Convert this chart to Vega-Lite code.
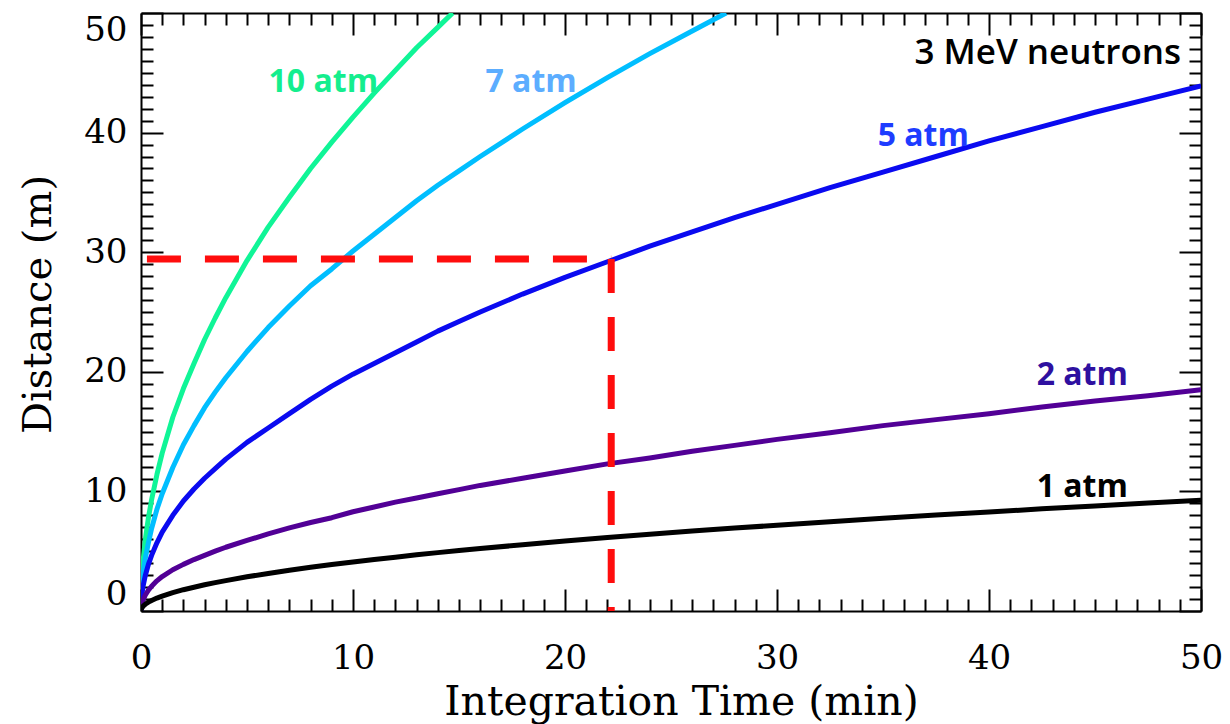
{
  "$schema": "https://vega.github.io/schema/vega-lite/v6.json",
  "autosize": {"type": "none"},
  "width": 1060,
  "height": 598,
  "padding": {"left": 141, "top": 13, "right": 29, "bottom": 113},
  "background": "white",
  "config": {"view": {"stroke": null}, "axis": {"grid": false}},
  "datasets": {
    "curves": [
      {"p": "10 atm", "t": 0, "d": 0}, {"p": "10 atm", "t": 0.02, "d": 1.9}, {"p": "10 atm", "t": 0.05, "d": 3.0},
      {"p": "10 atm", "t": 0.1, "d": 4.2}, {"p": "10 atm", "t": 0.2, "d": 5.9}, {"p": "10 atm", "t": 0.35, "d": 7.8},
      {"p": "10 atm", "t": 0.5, "d": 9.3}, {"p": "10 atm", "t": 0.75, "d": 11.4}, {"p": "10 atm", "t": 1, "d": 13.2},
      {"p": "10 atm", "t": 1.5, "d": 16.2}, {"p": "10 atm", "t": 2, "d": 18.6}, {"p": "10 atm", "t": 2.5, "d": 20.7},
      {"p": "10 atm", "t": 3, "d": 22.7}, {"p": "10 atm", "t": 3.5, "d": 24.5}, {"p": "10 atm", "t": 4, "d": 26.2},
      {"p": "10 atm", "t": 5, "d": 29.3}, {"p": "10 atm", "t": 6, "d": 32.1}, {"p": "10 atm", "t": 7, "d": 34.6},
      {"p": "10 atm", "t": 8, "d": 37.0}, {"p": "10 atm", "t": 9, "d": 39.2}, {"p": "10 atm", "t": 10, "d": 41.3},
      {"p": "10 atm", "t": 11, "d": 43.3}, {"p": "10 atm", "t": 12, "d": 45.2}, {"p": "10 atm", "t": 13, "d": 47.1},
      {"p": "10 atm", "t": 14, "d": 48.8}, {"p": "10 atm", "t": 14.7, "d": 50.0},

      {"p": "7 atm", "t": 0, "d": 0}, {"p": "7 atm", "t": 0.02, "d": 1.4}, {"p": "7 atm", "t": 0.05, "d": 2.2},
      {"p": "7 atm", "t": 0.1, "d": 3.1}, {"p": "7 atm", "t": 0.2, "d": 4.4}, {"p": "7 atm", "t": 0.35, "d": 5.7},
      {"p": "7 atm", "t": 0.5, "d": 6.9}, {"p": "7 atm", "t": 0.75, "d": 8.5}, {"p": "7 atm", "t": 1, "d": 9.8},
      {"p": "7 atm", "t": 1.5, "d": 12.0}, {"p": "7 atm", "t": 2, "d": 13.9}, {"p": "7 atm", "t": 2.5, "d": 15.5},
      {"p": "7 atm", "t": 3, "d": 17.0}, {"p": "7 atm", "t": 3.5, "d": 18.3}, {"p": "7 atm", "t": 4, "d": 19.5},
      {"p": "7 atm", "t": 5, "d": 21.7}, {"p": "7 atm", "t": 6, "d": 23.7}, {"p": "7 atm", "t": 7, "d": 25.5},
      {"p": "7 atm", "t": 8, "d": 27.2}, {"p": "7 atm", "t": 9, "d": 28.6}, {"p": "7 atm", "t": 10, "d": 30.1},
      {"p": "7 atm", "t": 11, "d": 31.5}, {"p": "7 atm", "t": 12, "d": 32.9}, {"p": "7 atm", "t": 13, "d": 34.3},
      {"p": "7 atm", "t": 14, "d": 35.6}, {"p": "7 atm", "t": 15, "d": 36.8}, {"p": "7 atm", "t": 16, "d": 38.0},
      {"p": "7 atm", "t": 18, "d": 40.3}, {"p": "7 atm", "t": 20, "d": 42.5}, {"p": "7 atm", "t": 22, "d": 44.6},
      {"p": "7 atm", "t": 24, "d": 46.6}, {"p": "7 atm", "t": 26, "d": 48.5}, {"p": "7 atm", "t": 27.6, "d": 50.0},

      {"p": "5 atm", "t": 0, "d": 0}, {"p": "5 atm", "t": 0.02, "d": 0.95}, {"p": "5 atm", "t": 0.05, "d": 1.5},
      {"p": "5 atm", "t": 0.1, "d": 2.1}, {"p": "5 atm", "t": 0.2, "d": 2.95}, {"p": "5 atm", "t": 0.35, "d": 3.9},
      {"p": "5 atm", "t": 0.5, "d": 4.65}, {"p": "5 atm", "t": 0.75, "d": 5.7}, {"p": "5 atm", "t": 1, "d": 6.6},
      {"p": "5 atm", "t": 1.5, "d": 8.0}, {"p": "5 atm", "t": 2, "d": 9.2}, {"p": "5 atm", "t": 2.5, "d": 10.2},
      {"p": "5 atm", "t": 3, "d": 11.1}, {"p": "5 atm", "t": 3.5, "d": 11.9}, {"p": "5 atm", "t": 4, "d": 12.7},
      {"p": "5 atm", "t": 5, "d": 14.1}, {"p": "5 atm", "t": 6, "d": 15.3}, {"p": "5 atm", "t": 7, "d": 16.5},
      {"p": "5 atm", "t": 8, "d": 17.7}, {"p": "5 atm", "t": 9, "d": 18.8}, {"p": "5 atm", "t": 10, "d": 19.8},
      {"p": "5 atm", "t": 11, "d": 20.7}, {"p": "5 atm", "t": 12, "d": 21.6}, {"p": "5 atm", "t": 13, "d": 22.5},
      {"p": "5 atm", "t": 14, "d": 23.4}, {"p": "5 atm", "t": 15, "d": 24.2}, {"p": "5 atm", "t": 16, "d": 25.0},
      {"p": "5 atm", "t": 18, "d": 26.5}, {"p": "5 atm", "t": 20, "d": 27.9}, {"p": "5 atm", "t": 22, "d": 29.2},
      {"p": "5 atm", "t": 24, "d": 30.5}, {"p": "5 atm", "t": 26, "d": 31.7}, {"p": "5 atm", "t": 28, "d": 32.9},
      {"p": "5 atm", "t": 30, "d": 34.0}, {"p": "5 atm", "t": 32.5, "d": 35.4}, {"p": "5 atm", "t": 35, "d": 36.7},
      {"p": "5 atm", "t": 37.5, "d": 38.0}, {"p": "5 atm", "t": 40, "d": 39.3}, {"p": "5 atm", "t": 42.5, "d": 40.5},
      {"p": "5 atm", "t": 45, "d": 41.7}, {"p": "5 atm", "t": 47.5, "d": 42.8}, {"p": "5 atm", "t": 50, "d": 43.9},

      {"p": "2 atm", "t": 0, "d": 0}, {"p": "2 atm", "t": 0.02, "d": 0.42}, {"p": "2 atm", "t": 0.05, "d": 0.66},
      {"p": "2 atm", "t": 0.1, "d": 0.93}, {"p": "2 atm", "t": 0.2, "d": 1.32}, {"p": "2 atm", "t": 0.35, "d": 1.74},
      {"p": "2 atm", "t": 0.5, "d": 2.07}, {"p": "2 atm", "t": 0.75, "d": 2.52}, {"p": "2 atm", "t": 1, "d": 2.88},
      {"p": "2 atm", "t": 1.5, "d": 3.45}, {"p": "2 atm", "t": 2, "d": 3.9}, {"p": "2 atm", "t": 2.5, "d": 4.3},
      {"p": "2 atm", "t": 3, "d": 4.65}, {"p": "2 atm", "t": 3.5, "d": 5.0}, {"p": "2 atm", "t": 4, "d": 5.33},
      {"p": "2 atm", "t": 5, "d": 5.9}, {"p": "2 atm", "t": 6, "d": 6.45}, {"p": "2 atm", "t": 7, "d": 6.95},
      {"p": "2 atm", "t": 8, "d": 7.4}, {"p": "2 atm", "t": 9, "d": 7.8}, {"p": "2 atm", "t": 10, "d": 8.3},
      {"p": "2 atm", "t": 11, "d": 8.7}, {"p": "2 atm", "t": 12, "d": 9.1}, {"p": "2 atm", "t": 13, "d": 9.45},
      {"p": "2 atm", "t": 14, "d": 9.8}, {"p": "2 atm", "t": 15, "d": 10.15}, {"p": "2 atm", "t": 16, "d": 10.5},
      {"p": "2 atm", "t": 18, "d": 11.1}, {"p": "2 atm", "t": 20, "d": 11.7}, {"p": "2 atm", "t": 22, "d": 12.3},
      {"p": "2 atm", "t": 24, "d": 12.8}, {"p": "2 atm", "t": 26, "d": 13.35}, {"p": "2 atm", "t": 28, "d": 13.85},
      {"p": "2 atm", "t": 30, "d": 14.35}, {"p": "2 atm", "t": 32.5, "d": 14.9}, {"p": "2 atm", "t": 35, "d": 15.5},
      {"p": "2 atm", "t": 37.5, "d": 16.0}, {"p": "2 atm", "t": 40, "d": 16.5}, {"p": "2 atm", "t": 42.5, "d": 17.05},
      {"p": "2 atm", "t": 45, "d": 17.55}, {"p": "2 atm", "t": 47.5, "d": 18.0}, {"p": "2 atm", "t": 50, "d": 18.5},

      {"p": "1 atm", "t": 0, "d": 0}, {"p": "1 atm", "t": 0.02, "d": 0.18}, {"p": "1 atm", "t": 0.05, "d": 0.28},
      {"p": "1 atm", "t": 0.1, "d": 0.4}, {"p": "1 atm", "t": 0.2, "d": 0.56}, {"p": "1 atm", "t": 0.35, "d": 0.74},
      {"p": "1 atm", "t": 0.5, "d": 0.88}, {"p": "1 atm", "t": 0.75, "d": 1.08}, {"p": "1 atm", "t": 1, "d": 1.25},
      {"p": "1 atm", "t": 1.5, "d": 1.54}, {"p": "1 atm", "t": 2, "d": 1.78}, {"p": "1 atm", "t": 2.5, "d": 1.99},
      {"p": "1 atm", "t": 3, "d": 2.19}, {"p": "1 atm", "t": 3.5, "d": 2.37}, {"p": "1 atm", "t": 4, "d": 2.54},
      {"p": "1 atm", "t": 5, "d": 2.86}, {"p": "1 atm", "t": 6, "d": 3.14}, {"p": "1 atm", "t": 7, "d": 3.4},
      {"p": "1 atm", "t": 8, "d": 3.65}, {"p": "1 atm", "t": 9, "d": 3.88}, {"p": "1 atm", "t": 10, "d": 4.1},
      {"p": "1 atm", "t": 11, "d": 4.3}, {"p": "1 atm", "t": 12, "d": 4.5}, {"p": "1 atm", "t": 13, "d": 4.7},
      {"p": "1 atm", "t": 14, "d": 4.88}, {"p": "1 atm", "t": 15, "d": 5.05}, {"p": "1 atm", "t": 16, "d": 5.22},
      {"p": "1 atm", "t": 18, "d": 5.54}, {"p": "1 atm", "t": 20, "d": 5.85}, {"p": "1 atm", "t": 22, "d": 6.14},
      {"p": "1 atm", "t": 24, "d": 6.41}, {"p": "1 atm", "t": 26, "d": 6.68}, {"p": "1 atm", "t": 28, "d": 6.93},
      {"p": "1 atm", "t": 30, "d": 7.17}, {"p": "1 atm", "t": 32.5, "d": 7.47}, {"p": "1 atm", "t": 35, "d": 7.75},
      {"p": "1 atm", "t": 37.5, "d": 8.02}, {"p": "1 atm", "t": 40, "d": 8.28}, {"p": "1 atm", "t": 42.5, "d": 8.54},
      {"p": "1 atm", "t": 45, "d": 8.78}, {"p": "1 atm", "t": 47.5, "d": 9.02}, {"p": "1 atm", "t": 50, "d": 9.25}
    ],
    "guide": [
      {"seg": "h", "i": 0, "t": 0.28, "d": 29.43},
      {"seg": "h", "i": 1, "t": 22.18, "d": 29.43},
      {"seg": "v", "i": 0, "t": 22.18, "d": 29.43},
      {"seg": "v", "i": 1, "t": 22.18, "d": 0}
    ],
    "labels": [
      {"label": "10 atm", "t": 8.6, "d": 43.4},
      {"label": "7 atm", "t": 18.4, "d": 43.4},
      {"label": "5 atm", "t": 36.9, "d": 38.9},
      {"label": "2 atm", "t": 44.4, "d": 18.9},
      {"label": "1 atm", "t": 44.4, "d": 9.5}
    ],
    "note": [
      {"label": "3 MeV neutrons", "t": 49.06, "d": 45.7}
    ]
  },
  "layer": [
    {
      "data": {"name": "curves"},
      "mark": {"type": "line", "clip": true, "strokeCap": "butt", "strokeJoin": "round", "strokeWidth": 5},
      "encoding": {
        "x": {
          "field": "t", "type": "quantitative",
          "scale": {"domain": [0, 50], "nice": false, "zero": false},
          "axis": {
            "orient": "bottom", "values": [0, 10, 20, 30, 40, 50], "format": "d",
            "tickSize": -22, "tickWidth": 2, "tickColor": "black",
            "domain": true, "domainColor": "black", "domainWidth": 2,
            "labelFont": "DejaVu Serif", "labelFontSize": 34, "labelColor": "black",
            "labelPadding": 52, "labelFlush": false, "labelOverlap": false, "labelBound": false,
            "title": "Integration Time (min)", "titleFont": "DejaVu Serif", "titleFontSize": 41,
            "titleFontWeight": "normal", "titleColor": "black",
            "titleBaseline": "alphabetic", "titleY": 103, "titleX": 540, "titleAlign": "center"
          }
        },
        "y": {
          "field": "d", "type": "quantitative",
          "scale": {"domain": [0, 50], "nice": false, "zero": false},
          "axis": {
            "orient": "left", "values": [0, 10, 20, 30, 40, 50], "format": "d",
            "tickSize": -22, "tickWidth": 2, "tickColor": "black",
            "domain": true, "domainColor": "black", "domainWidth": 2,
            "labelFont": "DejaVu Serif", "labelFontSize": 34, "labelColor": "black",
            "labelPadding": 36, "labelFlush": true, "labelOverlap": false, "labelBound": false,
            "title": "Distance (m)", "titleFont": "DejaVu Serif", "titleFontSize": 40,
            "titleFontWeight": "normal", "titleColor": "black", "titleAngle": -90,
            "titleBaseline": "alphabetic", "titleX": -91, "titleY": 291, "titleAlign": "center"
          }
        },
        "color": {
          "field": "p", "type": "nominal",
          "scale": {"domain": ["10 atm", "7 atm", "5 atm", "2 atm", "1 atm"], "range": ["#10F597", "#00BEFF", "#0A0AF0", "#520096", "#000000"]},
          "legend": null
        }
      }
    },
    {
      "data": {"name": "guide"},
      "mark": {"type": "line", "color": "#FF0D0D", "strokeWidth": 7, "strokeDash": [34, 24], "strokeCap": "butt"},
      "encoding": {
        "x": {
          "field": "t", "type": "quantitative",
          "scale": {"domain": [0, 50], "nice": false, "zero": false},
          "axis": {
            "orient": "bottom", "values": [1,2,3,4,5,6,7,8,9,11,12,13,14,15,16,17,18,19,21,22,23,24,25,26,27,28,29,31,32,33,34,35,36,37,38,39,41,42,43,44,45,46,47,48,49],
            "tickSize": -12, "tickWidth": 2, "tickColor": "black",
            "domain": false, "labels": false, "title": null
          }
        },
        "y": {
          "field": "d", "type": "quantitative",
          "scale": {"domain": [0, 50], "nice": false, "zero": false},
          "axis": {
            "orient": "left", "values": [1,2,3,4,5,6,7,8,9,11,12,13,14,15,16,17,18,19,21,22,23,24,25,26,27,28,29,31,32,33,34,35,36,37,38,39,41,42,43,44,45,46,47,48,49],
            "tickSize": -12, "tickWidth": 2, "tickColor": "black",
            "domain": false, "labels": false, "title": null
          }
        },
        "detail": {"field": "seg", "type": "nominal"},
        "order": {"field": "i", "type": "quantitative"}
      }
    },
    {
      "data": {"name": "labels"},
      "mark": {"type": "text", "font": "Open Sans", "fontWeight": "bold", "fontSize": 32, "align": "center", "baseline": "alphabetic"},
      "encoding": {
        "x": {
          "field": "t", "type": "quantitative",
          "scale": {"domain": [0, 50], "nice": false, "zero": false},
          "axis": {
            "orient": "top", "values": [0, 10, 20, 30, 40, 50],
            "tickSize": -22, "tickWidth": 2, "tickColor": "black",
            "domain": true, "domainColor": "black", "domainWidth": 2, "labels": false, "title": null
          }
        },
        "y": {
          "field": "d", "type": "quantitative",
          "scale": {"domain": [0, 50], "nice": false, "zero": false},
          "axis": {
            "orient": "right", "values": [0, 10, 20, 30, 40, 50],
            "tickSize": -22, "tickWidth": 2, "tickColor": "black",
            "domain": true, "domainColor": "black", "domainWidth": 2, "labels": false, "title": null
          }
        },
        "text": {"field": "label", "type": "nominal"},
        "color": {
          "field": "label", "type": "nominal",
          "scale": {"domain": ["10 atm", "7 atm", "5 atm", "2 atm", "1 atm"], "range": ["#14EE8E", "#5CADFF", "#1E3CFF", "#2E10A0", "#000000"]},
          "legend": null
        }
      }
    },
    {
      "data": {"name": "note"},
      "mark": {"type": "text", "font": "Open Sans", "fontWeight": 600, "fontSize": 35, "align": "right", "baseline": "alphabetic", "color": "black"},
      "encoding": {
        "x": {
          "field": "t", "type": "quantitative",
          "scale": {"domain": [0, 50], "nice": false, "zero": false},
          "axis": {
            "orient": "top", "values": [1,2,3,4,5,6,7,8,9,11,12,13,14,15,16,17,18,19,21,22,23,24,25,26,27,28,29,31,32,33,34,35,36,37,38,39,41,42,43,44,45,46,47,48,49],
            "tickSize": -12, "tickWidth": 2, "tickColor": "black",
            "domain": false, "labels": false, "title": null
          }
        },
        "y": {
          "field": "d", "type": "quantitative",
          "scale": {"domain": [0, 50], "nice": false, "zero": false},
          "axis": {
            "orient": "right", "values": [1,2,3,4,5,6,7,8,9,11,12,13,14,15,16,17,18,19,21,22,23,24,25,26,27,28,29,31,32,33,34,35,36,37,38,39,41,42,43,44,45,46,47,48,49],
            "tickSize": -12, "tickWidth": 2, "tickColor": "black",
            "domain": false, "labels": false, "title": null
          }
        },
        "text": {"field": "label", "type": "nominal"}
      }
    }
  ],
  "resolve": {
    "scale": {"color": "independent"},
    "axis": {"x": "independent", "y": "independent"}
  }
}
